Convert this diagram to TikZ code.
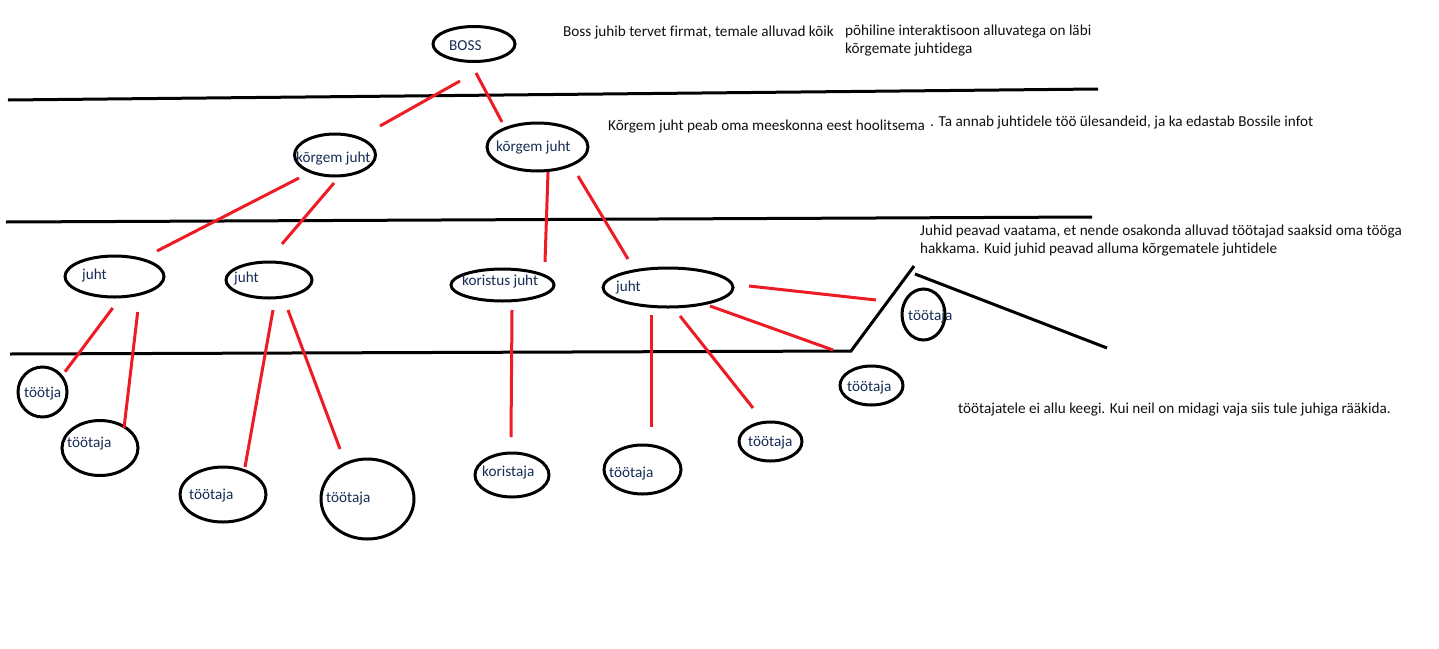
\documentclass[tikz,border=0pt]{standalone}
\usepackage{fontspec}
\setmainfont{Carlito}[Ligatures=NoCommon]
\usetikzlibrary{shapes.geometric}
\definecolor{pred}{RGB}{237,28,36}
\definecolor{lblc}{RGB}{22,44,84}
\definecolor{txtc}{RGB}{15,15,15}
\tikzset{
  ell/.style={draw=black, line width=3pt, ellipse, inner sep=0pt, fill=none},
  lbl/.style={anchor=base west, inner sep=0pt, text=lblc, font=\fontsize{15.2}{18}\selectfont},
  note/.style={anchor=base west, inner sep=0pt, text=txtc, font=\fontsize{15.2}{17.5}\selectfont, align=left},
  blk/.style={draw=black, line width=3pt},
  rl/.style={draw=pred, line width=3pt}
}
\begin{document}
\begin{tikzpicture}[x=1pt,y=-1pt]
\useasboundingbox (0,0) rectangle (1439,648);
% black separator lines
\coordinate (a1) at (8,100); \coordinate (a2) at (1098,89);
\coordinate (b1) at (6,222); \coordinate (b2) at (1092,217);
\coordinate (c1) at (10,354); \coordinate (c2) at (851,351); \coordinate (c3) at (914,266);
\coordinate (d1) at (915,274); \coordinate (d2) at (1107,348);
\draw[blk] (a1) -- (a2);
\draw[blk] (b1) -- (b2);
\draw[blk] (c1) -- (c2) -- (c3);
\draw[blk] (d1) -- (d2);
% ellipses
\node[ell, minimum width=82pt, minimum height=35pt] (boss) at (474,44) {};
\node[ell, minimum width=81pt, minimum height=42pt] (k1) at (335,155) {};
\node[ell, minimum width=101pt, minimum height=48pt] (k2) at (537.5,147) {};
\node[ell, minimum width=99pt, minimum height=41pt] (j1) at (114.5,276.5) {};
\node[ell, minimum width=86pt, minimum height=36pt] (j2) at (269,280) {};
\node[ell, minimum width=103pt, minimum height=32pt] (kj) at (502.5,285) {};
\node[ell, minimum width=130pt, minimum height=39pt] (j4) at (668,287.5) {};
\node[ell, minimum width=49pt, minimum height=50pt] (t1) at (42.5,392) {};
\node[ell, minimum width=76pt, minimum height=55pt] (t2) at (100,448) {};
\node[ell, minimum width=86pt, minimum height=55pt] (t3) at (223,494.5) {};
\node[ell, minimum width=93pt, minimum height=80pt] (t4) at (367.5,499) {};
\node[ell, minimum width=74pt, minimum height=44pt] (ko) at (512,475) {};
\node[ell, minimum width=77pt, minimum height=49pt] (t5) at (642.5,469.5) {};
\node[ell, minimum width=63pt, minimum height=39pt] (t6) at (770.5,441.5) {};
\node[ell, minimum width=43pt, minimum height=51pt] (t7) at (923.5,314.5) {};
\node[ell, minimum width=63pt, minimum height=39pt] (t8) at (871.5,385.5) {};
% labels
\node[lbl] (lboss) at (449,50) {BOSS};
\node[lbl] (lk1) at (296,162) {kõrgem juht};
\node[lbl] (lk2) at (496,151) {kõrgem juht};
\node[lbl] (lj1) at (82,279) {juht};
\node[lbl] (lj2) at (234,282) {juht};
\node[lbl] (lkj) at (462,285) {koristus juht};
\node[lbl] (lj4) at (616,291) {juht};
\node[lbl] (lt1) at (24,397) {töötja};
\node[lbl] (lt2) at (67,447) {töötaja};
\node[lbl] (lt3) at (189,499) {töötaja};
\node[lbl] (lt4) at (326,502) {töötaja};
\node[lbl] (lko) at (482,476) {koristaja};
\node[lbl] (lt5) at (609,477) {töötaja};
\node[lbl] (lt6) at (748,446) {töötaja};
\node[lbl] (lt7) at (908,320) {töötaja};
\node[lbl] (lt8) at (847,391) {töötaja};
% red connectors (free-floating ends)
\coordinate (r1a) at (460,81);  \coordinate (r1b) at (380,126);
\coordinate (r2a) at (476,73);  \coordinate (r2b) at (502,122);
\coordinate (r3a) at (299,178); \coordinate (r3b) at (157,251);
\coordinate (r4a) at (334,183); \coordinate (r4b) at (282,244);
\coordinate (r5a) at (548,172); \coordinate (r5b) at (545,262);
\coordinate (r6a) at (578,176); \coordinate (r6b) at (628,259);
\coordinate (r7a) at (112.7,308); \coordinate (r7b) at (65,371.7);
\coordinate (r8a) at (137.7,312); \coordinate (r8b) at (124,428);
\coordinate (r9a) at (273,310); \coordinate (r9b) at (245,467);
\coordinate (r10a) at (288,310); \coordinate (r10b) at (340,449);
\coordinate (r11a) at (512,310); \coordinate (r11b) at (511,437);
\coordinate (r12a) at (651,315); \coordinate (r12b) at (651,427);
\coordinate (r13a) at (680,316); \coordinate (r13b) at (753,408);
\coordinate (r14a) at (710,306); \coordinate (r14b) at (833,350);
\coordinate (r15a) at (749,286); \coordinate (r15b) at (876,300);
\foreach \i in {1,...,15} {\draw[rl] (r\i a) -- (r\i b);}
% annotations
\node[note] (n1) at (563,36) {Boss juhib tervet firmat, temale alluvad kõik};
\node[note] (n2) at (845,53) {põhiline interaktisoon alluvatega on läbi\\kõrgemate juhtidega};
\node[note] (n3) at (608,130) {Kõrgem juht peab oma meeskonna eest hoolitsema};
\node[note] (n4) at (930,126) {. Ta annab juhtidele töö ülesandeid, ja ka edastab Bossile infot};
\node[note] (n5) at (920,253) {Juhid peavad vaatama, et nende osakonda alluvad töötajad saaksid oma tööga\\hakkama. Kuid juhid peavad alluma kõrgematele juhtidele};
\node[note] (n6) at (958,413) {töötajatele ei allu keegi. Kui neil on midagi vaja siis tule juhiga rääkida.};
\end{tikzpicture}
\end{document}
